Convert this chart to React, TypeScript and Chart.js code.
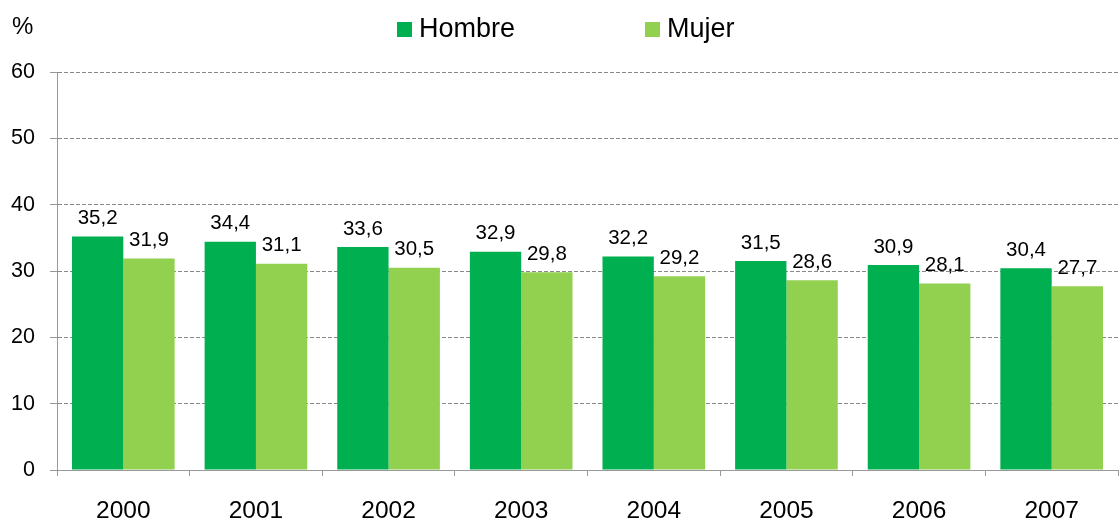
import React, { useEffect, useRef } from "react";
import { Chart, registerables } from "chart.js";

Chart.register(...registerables);

const years = ["2000", "2001", "2002", "2003", "2004", "2005", "2006", "2007"];
const hombre = [35.2, 34.4, 33.6, 32.9, 32.2, 31.5, 30.9, 30.4];
const mujer = [31.9, 31.1, 30.5, 29.8, 29.2, 28.6, 28.1, 27.7];
const seriesNames = ["Hombre", "Mujer"];
const colors = ["#00B050", "#92D050"];
const FONT = "'Liberation Sans', Arial, sans-serif";

const labelPlugin = {
  id: "valueLabels",
  afterDatasetsDraw(chart: any) {
    const ctx = chart.ctx;
    ctx.save();
    ctx.font = `20.5px ${FONT}`;
    ctx.fillStyle = "#000";
    ctx.textAlign = "center";
    ctx.textBaseline = "alphabetic";
    chart.data.datasets.forEach((ds: any, i: number) => {
      const meta = chart.getDatasetMeta(i);
      meta.data.forEach((el: any, j: number) => {
        const v = ds.data[j];
        ctx.fillText(v.toFixed(1).replace(".", ","), el.x, el.y - 12.5);
      });
    });
    ctx.restore();
  },
};

const legendPlugin = {
  id: "customLegend",
  afterDraw(chart: any) {
    const ctx = chart.ctx;
    ctx.save();
    ctx.font = `27px ${FONT}`;
    ctx.textBaseline = "middle";
    ctx.textAlign = "left";
    const items = [
      { x: 397, label: seriesNames[0], color: colors[0] },
      { x: 645, label: seriesNames[1], color: colors[1] },
    ];
    items.forEach((it) => {
      ctx.fillStyle = it.color;
      ctx.fillRect(it.x, 22, 15, 15);
      ctx.fillStyle = "#000";
      ctx.fillText(it.label, it.x + 22, 30);
    });
    ctx.font = `24px ${FONT}`;
    ctx.fillText("%", 12, 27);
    ctx.restore();
  },
};

export default function App() {
  const ref = useRef<HTMLCanvasElement>(null);
  useEffect(() => {
    if (!ref.current) return;
    const chart = new Chart(ref.current, {
      type: "bar",
      data: {
        labels: years,
        datasets: [
          { label: seriesNames[0], data: hombre, backgroundColor: colors[0] },
          { label: seriesNames[1], data: mujer, backgroundColor: colors[1] },
        ],
      },
      options: {
        animation: false,
        responsive: true,
        maintainAspectRatio: false,
        layout: { padding: { top: 72, right: 1, left: 0, bottom: 0 } },
        datasets: { bar: { categoryPercentage: 0.774, barPercentage: 1 } },
        plugins: { legend: { display: false }, tooltip: { enabled: false } },
        scales: {
          x: {
            grid: {
              display: true,
              drawOnChartArea: false,
              drawTicks: true,
              tickLength: 6,
              color: "#999",
              offset: true,
            },
            border: { display: true, color: "#999", width: 1 },
            ticks: { color: "#000", font: { family: FONT, size: 24.5 }, padding: 21 },
            afterFit(scale: any) {
              scale.height = 52;
            },
          },
          y: {
            min: 0,
            max: 60,
            ticks: { stepSize: 10, color: "#000", font: { family: FONT, size: 21.5 }, padding: 15 },
            grid: {
              color: "#888",
              tickLength: 7,
              tickColor: "#999",
            },
            border: { display: true, color: "#999", width: 1, dash: [4, 2] },
            afterFit(scale: any) {
              scale.width = 57;
            },
          },
        },
      },
      plugins: [labelPlugin, legendPlugin],
    });
    return () => chart.destroy();
  }, []);
  return (
    <div style={{ position: "absolute", left: 0, top: 0, width: 1119, height: 522 }}>
      <canvas ref={ref} />
    </div>
  );
}
